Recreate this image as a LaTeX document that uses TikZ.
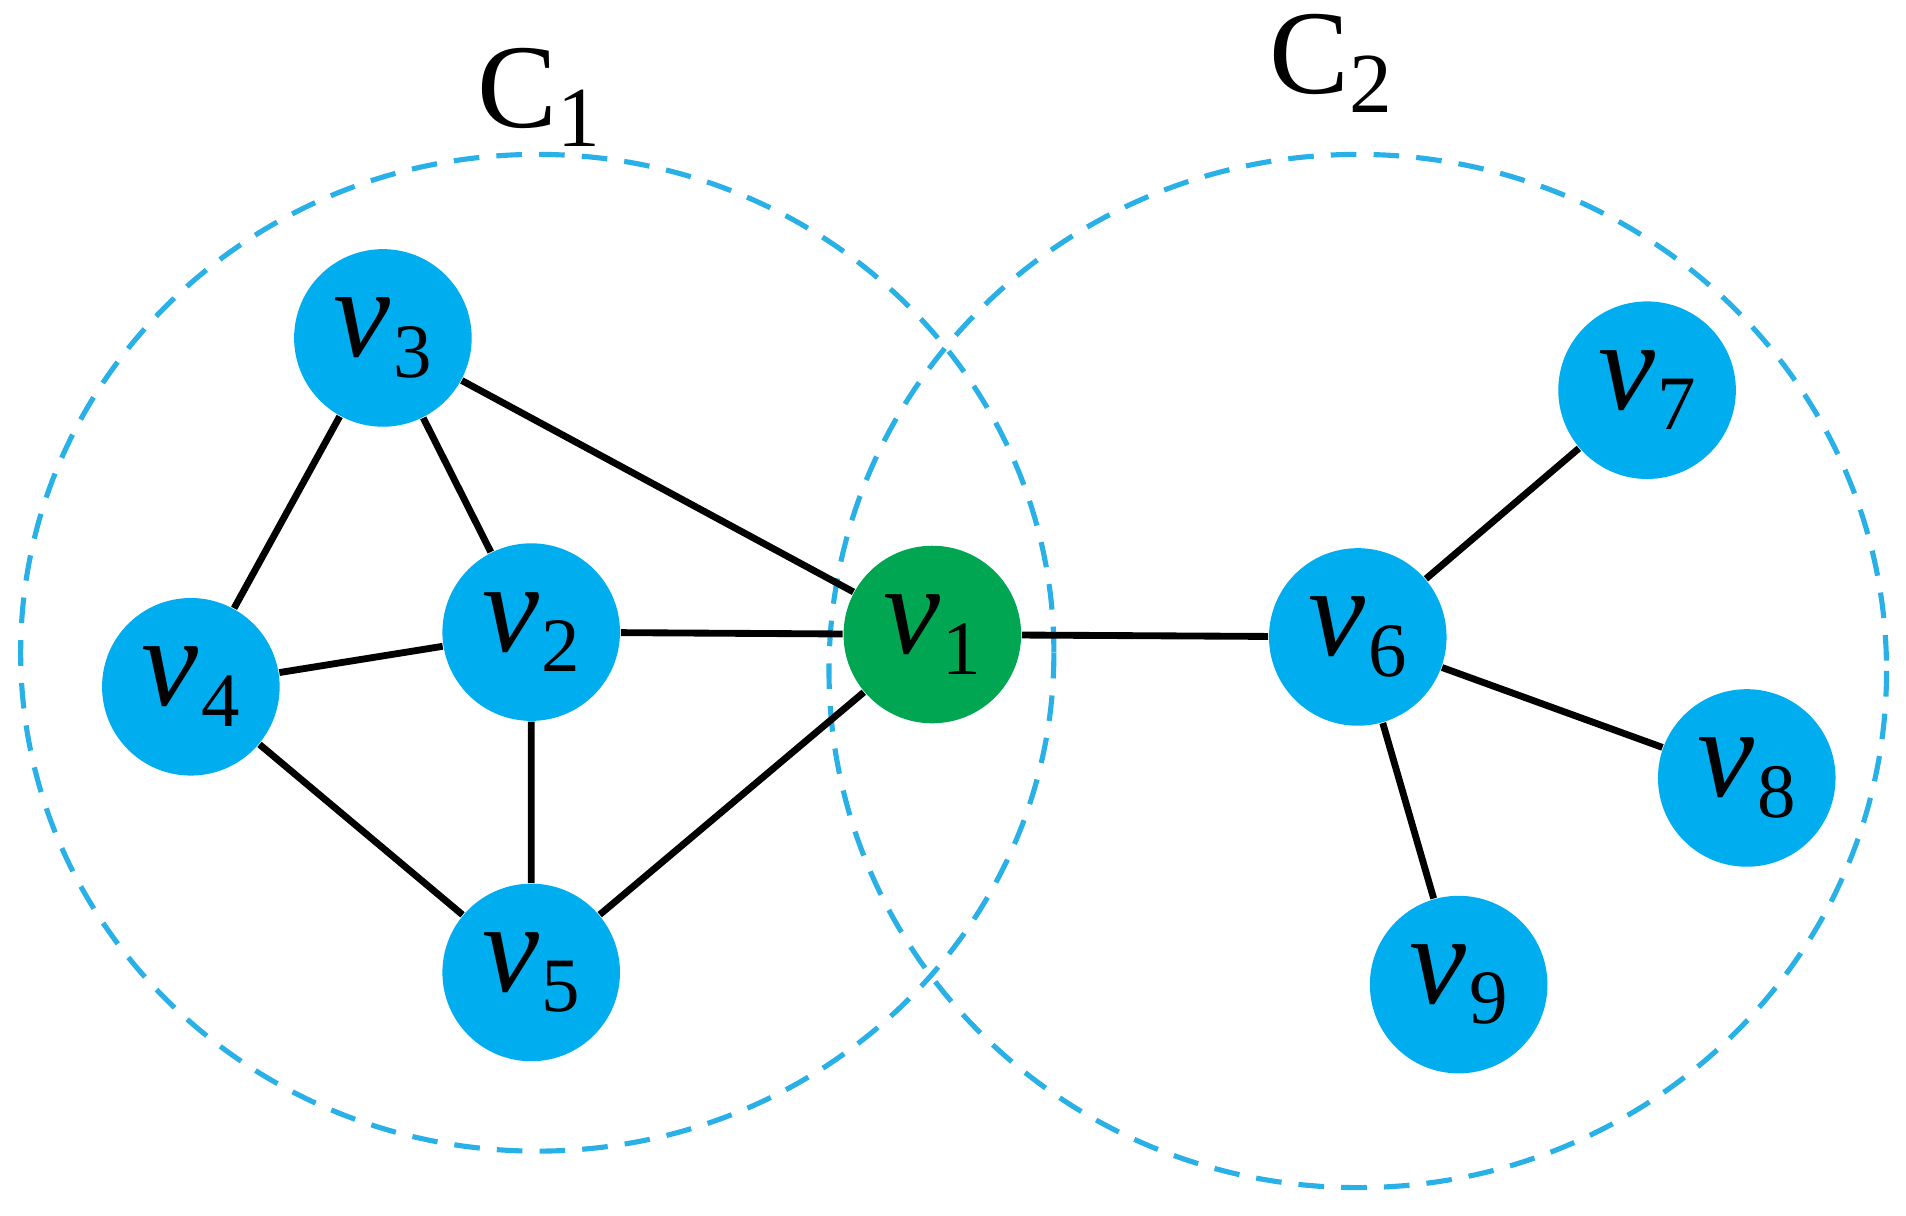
\documentclass[tikz,border=0pt]{standalone}
\usepackage{fontspec}
\setmainfont{Liberation Serif}
\newcommand{\myv}[1]{\textit{v}\kern0.02em\raisebox{-0.35ex}{\fontsize{18}{20}\selectfont #1}}
\newcommand{\myc}[1]{C\raisebox{-0.35ex}{\fontsize{20}{22}\selectfont #1}}
\begin{document}
\begin{tikzpicture}[x=0.01cm,y=-0.01cm,
  nd/.style={circle,fill=nblue,minimum size=1.46cm,inner sep=0pt,font=\fontsize{30}{34}\selectfont},
  ed/.style={line width=1.6pt,black},
  cl/.style={dash pattern=on 6pt off 4pt,line width=1.2pt,draw=cblue}]
\definecolor{nblue}{HTML}{00ADEF}
\definecolor{ngreen}{HTML}{00A651}
\definecolor{cblue}{HTML}{29B0E6}
\useasboundingbox (0,0) rectangle (1568,1000);
\draw[cl] (442,537) ellipse [x radius=425,y radius=410];
\draw[cl] (1117,552) ellipse [x radius=435,y radius=425];
\node[font=\fontsize{28}{32}\selectfont] (c1) at (443,80) {\myc{1}};
\node[font=\fontsize{28}{32}\selectfont] (c2) at (1095,52) {\myc{2}};
\node[nd] (v3) at (315,278) {\myv{3}};
\node[nd] (v2) at (437,520) {\myv{2}};
\node[nd] (v4) at (157,565) {\myv{4}};
\node[nd] (v5) at (437,800) {\myv{5}};
\node[nd,fill=ngreen] (v1) at (767,522) {\myv{1}};
\node[nd] (v6) at (1117,524) {\myv{6}};
\node[nd] (v7) at (1355,321) {\myv{7}};
\node[nd] (v8) at (1437,640) {\myv{8}};
\node[nd] (v9) at (1200,810) {\myv{9}};
\draw[ed] (v3)--(v4) (v3)--(v2) (v3)--(v1) (v4)--(v2) (v4)--(v5) (v2)--(v5) (v2)--(v1) (v5)--(v1) (v1)--(v6) (v6)--(v7) (v6)--(v8) (v6)--(v9);
\end{tikzpicture}
\end{document}
